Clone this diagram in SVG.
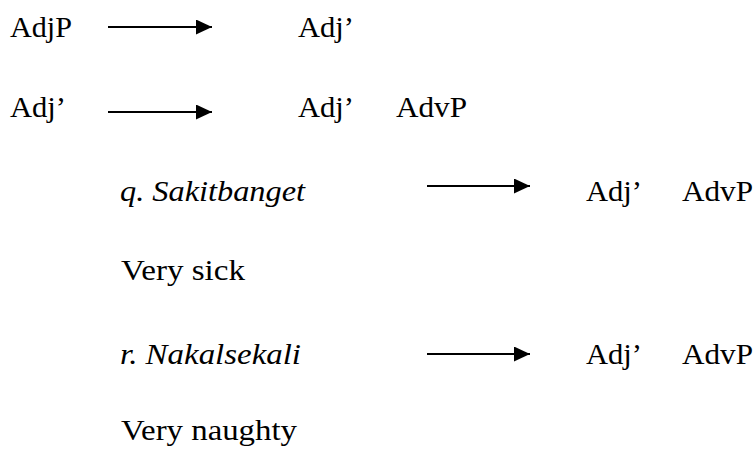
<svg xmlns="http://www.w3.org/2000/svg" width="756" height="452" viewBox="0 0 756 452">
<style>
text{font-family:"Liberation Serif","Times New Roman",serif;font-size:30px;fill:#000}
.it{font-style:italic}
.ar{stroke:#000;stroke-width:2;fill:none}
</style>
<defs>
<marker id="ah" markerUnits="userSpaceOnUse" markerWidth="16" markerHeight="15" refX="16" refY="7.5" orient="auto">
<path d="M0,0 L16,7.5 L0,15 Z" fill="#000"/>
</marker>
</defs>
<rect width="756" height="452" fill="#fff"/>
<g id="connectors">
<line class="ar" x1="108" y1="27" x2="212" y2="27" marker-end="url(#ah)"/>
<line class="ar" x1="108" y1="112" x2="212" y2="112" marker-end="url(#ah)"/>
<line class="ar" x1="427" y1="186" x2="530" y2="186" marker-end="url(#ah)"/>
<line class="ar" x1="427" y1="354" x2="530" y2="354" marker-end="url(#ah)"/>
</g>
<g id="row1">
<text x="10" y="37" textLength="62" lengthAdjust="spacingAndGlyphs">AdjP</text>
<text x="298" y="37" textLength="56" lengthAdjust="spacingAndGlyphs">Adj’</text>
</g>
<g id="row2">
<text x="10" y="117" textLength="56" lengthAdjust="spacingAndGlyphs">Adj’</text>
<text x="298" y="117" textLength="56" lengthAdjust="spacingAndGlyphs">Adj’</text>
<text x="396" y="117" textLength="71" lengthAdjust="spacingAndGlyphs">AdvP</text>
</g>
<g id="row3">
<text class="it" x="120" y="201" textLength="185" lengthAdjust="spacingAndGlyphs">q. Sakitbanget</text>
<text x="586" y="201" textLength="56" lengthAdjust="spacingAndGlyphs">Adj’</text>
<text x="682" y="201" textLength="71" lengthAdjust="spacingAndGlyphs">AdvP</text>
</g>
<g id="row4">
<text x="121" y="280" textLength="124" lengthAdjust="spacingAndGlyphs">Very sick</text>
</g>
<g id="row5">
<text class="it" x="120" y="364" textLength="181" lengthAdjust="spacingAndGlyphs">r. Nakalsekali</text>
<text x="586" y="364" textLength="56" lengthAdjust="spacingAndGlyphs">Adj’</text>
<text x="682" y="364" textLength="71" lengthAdjust="spacingAndGlyphs">AdvP</text>
</g>
<g id="row6">
<text x="121" y="440" textLength="176" lengthAdjust="spacingAndGlyphs">Very naughty</text>
</g>
</svg>
